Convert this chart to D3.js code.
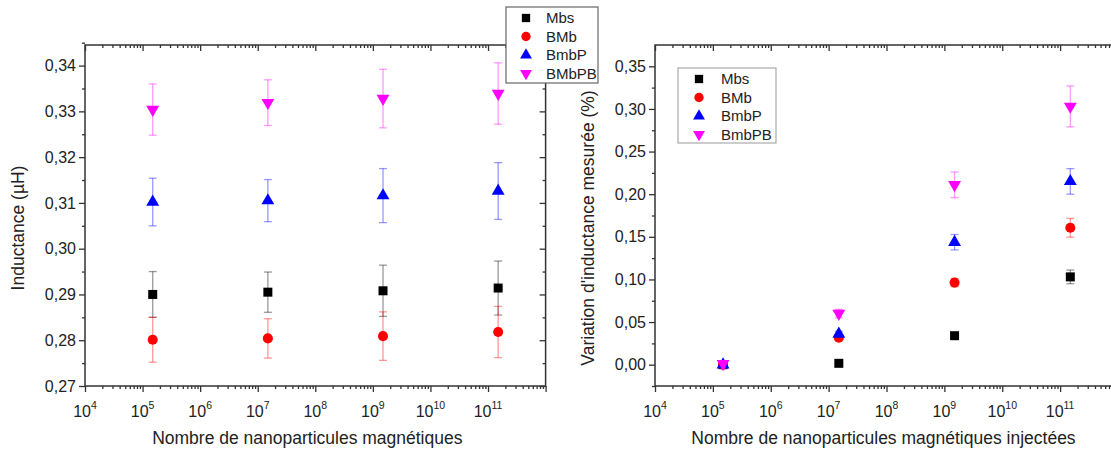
<!DOCTYPE html>
<html><head><meta charset="utf-8">
<script src="https://cdn.jsdelivr.net/npm/d3@7"></script>
<style>
body{margin:0;background:#fff}
svg text{font-family:"Liberation Sans",Arial,sans-serif;fill:#222}
</style>
</head><body>
<svg id="c" width="1111" height="450"></svg>
<script>
// ---------- data ----------
const xValues = [1.5e5, 1.5e7, 1.5e9, 1.5e11];
const leftNames  = ["Mbs", "BMb", "BmbP", "BMbPB"];
const rightNames = ["Mbs", "BMb", "BmbP", "BmbPB"];
const colors = ["#000000", "#ff0000", "#0000ff", "#ff00ff"];

const leftMbs      = [0.2900, 0.2905, 0.2908, 0.2914];
const leftMbsErr   = [0.0050, 0.0044, 0.0056, 0.0059];
const leftBMb      = [0.2801, 0.2804, 0.2809, 0.2818];
const leftBMbErr   = [0.0049, 0.0043, 0.0053, 0.0056];
const leftBmbP     = [0.3102, 0.3105, 0.3116, 0.3126];
const leftBmbPErr  = [0.0052, 0.0046, 0.0059, 0.0062];
const leftBMbPB    = [0.3304, 0.3319, 0.3328, 0.3339];
const leftBMbPBErr = [0.0056, 0.0050, 0.0064, 0.0067];

const rightMbs      = [0.000, 0.0016, 0.034, 0.103];
const rightMbsErr   = [0.000, 0.000, 0.001, 0.008];
const rightBMb      = [0.000, 0.0316, 0.0963, 0.1606];
const rightBMbErr   = [0.000, 0.002, 0.0047, 0.011];
const rightBmbP     = [0.000, 0.036, 0.1437, 0.215];
const rightBmbPErr  = [0.000, 0.003, 0.009, 0.015];
const rightBmbPB    = [0.001, 0.060, 0.211, 0.303];
const rightBmbPBErr = [0.000, 0.005, 0.015, 0.024];

const leftYTicks  = [0.27, 0.28, 0.29, 0.30, 0.31, 0.32, 0.33, 0.34];
const rightYTicks = [0.00, 0.05, 0.10, 0.15, 0.20, 0.25, 0.30, 0.35];
const xTickExponents = [4, 5, 6, 7, 8, 9, 10, 11];

const leftTitleX  = "Nombre de nanoparticules magnétiques";
const rightTitleX = "Nombre de nanoparticules magnétiques injectées";
const leftTitleY  = "Inductance (µH)";
const rightTitleY = "Variation d'inductance mesurée (%)";

// ---------- drawing ----------
const svg = d3.select("#c");
const fmt = v => d3.format(".2f")(v).replace(".", ",");
const symbolTypes = [d3.symbolSquare, d3.symbolCircle, d3.symbolTriangle, d3.symbolTriangle];
const symbolSizes = [81, 80, 72, 72];

function panel(cfg){
  const g = svg.append("g");
  const x = d3.scaleLog().domain([1e4, 1e12]).range([cfg.x0, cfg.x1]);
  const y = d3.scaleLinear().domain(cfg.yDomain).range([cfg.y1, cfg.y0]);
  const minorX = [];
  for (let e = 4; e < 12; e++) for (let k = 2; k <= 9; k++) minorX.push(k * Math.pow(10, e));
  const majorX = d3.range(4, 13).map(e => Math.pow(10, e));

  const style = sel => { sel.select(".domain").remove(); sel.selectAll("line").attr("stroke","#333").attr("stroke-width",1.3); };
  // bottom (outward)
  g.append("g").attr("transform",`translate(0,${cfg.y1})`)
    .call(d3.axisBottom(x).tickValues(majorX).tickSize(6).tickFormat("")).call(style);
  g.append("g").attr("transform",`translate(0,${cfg.y1})`)
    .call(d3.axisBottom(x).tickValues(minorX).tickSize(3).tickFormat("")).call(style);
  // top (inward)
  g.append("g").attr("transform",`translate(0,${cfg.y0})`)
    .call(d3.axisBottom(x).tickValues(majorX).tickSize(6).tickFormat("")).call(style);
  g.append("g").attr("transform",`translate(0,${cfg.y0})`)
    .call(d3.axisBottom(x).tickValues(minorX).tickSize(3).tickFormat("")).call(style);
  // left (outward)
  g.append("g").attr("transform",`translate(${cfg.x0},0)`)
    .call(d3.axisLeft(y).tickValues(cfg.yTicks).tickSize(6).tickPadding(3).tickFormat(fmt)).call(style)
    .selectAll("text").attr("font-size",16).attr("fill","#222");
  g.append("g").attr("transform",`translate(${cfg.x0},0)`)
    .call(d3.axisLeft(y).tickValues(cfg.yMinor).tickSize(3).tickFormat("")).call(style);
  // right (inward)
  g.append("g").attr("transform",`translate(${cfg.x1},0)`)
    .call(d3.axisLeft(y).tickValues(cfg.yTicks).tickSize(6).tickFormat("")).call(style);
  g.append("g").attr("transform",`translate(${cfg.x1},0)`)
    .call(d3.axisLeft(y).tickValues(cfg.yMinor).tickSize(3).tickFormat("")).call(style);

  // frame
  g.append("rect").attr("x",cfg.x0).attr("y",cfg.y0).attr("width",cfg.x1-cfg.x0).attr("height",cfg.y1-cfg.y0)
    .attr("fill","none").attr("stroke","#333").attr("stroke-width",1.5);

  // x tick labels 10^n
  const lab = g.append("g");
  xTickExponents.forEach(e => {
    const t = lab.append("text").attr("x", x(Math.pow(10,e))).attr("y", cfg.y1 + 31)
      .attr("text-anchor","middle").attr("font-size",16);
    t.append("tspan").text("10");
    t.append("tspan").attr("dy",-8).attr("font-size",10.5).text(e);
  });

  // titles
  g.append("text").attr("x",(cfg.x0+cfg.x1)/2 + cfg.xTitleShift).attr("y",444).attr("text-anchor","middle")
    .attr("font-size",17.5).text(cfg.titleX);
  g.append("text").attr("transform",`translate(${cfg.yTitleX},${cfg.yTitleY}) rotate(-90)`)
    .attr("text-anchor","middle").attr("font-size",17.5).text(cfg.titleY);

  // error bars
  cfg.series.forEach((s, i) => {
    const sg = g.append("g");
    s.vals.forEach((v, j) => {
      const e = s.errs[j];
      if (e > 0) {
        const cx = x(xValues[j]);
        sg.append("line").attr("x1",cx).attr("x2",cx).attr("y1",y(v-e)).attr("y2",y(v+e))
          .attr("stroke",colors[i]).attr("stroke-opacity",0.4).attr("stroke-width",1.3);
        [v-e, v+e].forEach(w => sg.append("line").attr("x1",cx-4).attr("x2",cx+4).attr("y1",y(w)).attr("y2",y(w))
          .attr("stroke",colors[i]).attr("stroke-opacity",0.4).attr("stroke-width",1.3));
      }
    });
  });
  // markers
  cfg.series.forEach((s, i) => {
    s.vals.forEach((v, j) => {
      g.append("path").attr("d", d3.symbol().type(symbolTypes[i]).size(symbolSizes[i])())
        .attr("transform", `translate(${x(xValues[j])},${y(v)})` + (i===3 ? " rotate(180)" : ""))
        .attr("fill", colors[i]);
    });
  });

  // legend
  const L = cfg.legend;
  const lg = svg.append("g");
  lg.append("rect").attr("x",L.x).attr("y",L.y).attr("width",L.w).attr("height",L.h)
    .attr("fill","#fff").attr("stroke",L.stroke).attr("stroke-width",1.2);
  cfg.names.forEach((n, i) => {
    const yy = L.y + L.first + i*L.step;
    lg.append("path").attr("d", d3.symbol().type(symbolTypes[i]).size(symbolSizes[i]*0.85)())
      .attr("transform", `translate(${L.x+L.mx},${yy})` + (i===3 ? " rotate(180)" : ""))
      .attr("fill", colors[i]);
    lg.append("text").attr("x",L.x+L.tx).attr("y",yy).attr("dy","0.35em").attr("font-size",15).text(n);
  });
}

panel({
  x0:85, x1:545.6, y0:45, y1:386, yDomain:[0.27, 0.3445], yTicks:leftYTicks,
  yMinor: d3.range(0, 8).map(i => 0.275 + i*0.01),
  titleX:leftTitleX, titleY:leftTitleY, xTitleShift:-8, yTitleX:24, yTitleY:228,
  names:leftNames,
  series:[{vals:leftMbs,errs:leftMbsErr},{vals:leftBMb,errs:leftBMbErr},{vals:leftBmbP,errs:leftBmbPErr},{vals:leftBMbPB,errs:leftBMbPBErr}],
  legend:{x:506, y:7, w:92, h:76, first:11, step:18.5, mx:20, tx:40, stroke:"#666"}
});
panel({
  x0:655, x1:1118, y0:45, y1:386, yDomain:[-0.025, 0.375], yTicks:rightYTicks,
  yMinor: d3.range(0, 8).map(i => -0.025 + i*0.05),
  titleX:rightTitleX, titleY:rightTitleY, xTitleShift:-3, yTitleX:594, yTitleY:228,
  names:rightNames,
  series:[{vals:rightMbs,errs:rightMbsErr},{vals:rightBMb,errs:rightBMbErr},{vals:rightBmbP,errs:rightBmbPErr},{vals:rightBmbPB,errs:rightBmbPBErr}],
  legend:{x:678, y:68, w:98, h:75, first:11, step:18.5, mx:21, tx:43, stroke:"#aaa"}
});
</script>
</body></html>
